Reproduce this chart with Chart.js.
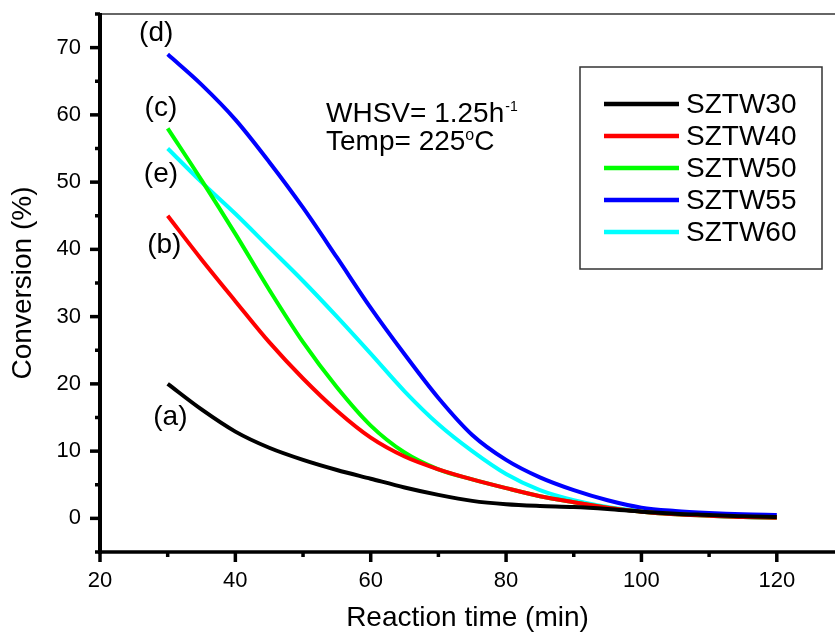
<!DOCTYPE html>
<html>
<head>
<meta charset="utf-8">
<script src="https://cdn.jsdelivr.net/npm/chart.js@4"></script>
<style>
  body { margin: 0; background: white; }
  #wrap { width: 835px; height: 635px; }
</style>
</head>
<body>
<div id="wrap"><canvas id="conv" width="835" height="635"></canvas></div>
<script>
// reaction time (min)
const times = [30, 35, 40, 45, 50, 55, 60, 65, 70, 75, 80, 85, 90, 95, 100, 105, 110, 115, 120]
// conversion (%)
const sztw30 = [20, 16.2, 12.9, 10.5, 8.7, 7.2, 5.9, 4.6, 3.5, 2.6, 2.1, 1.85, 1.7, 1.4, 1.0, 0.7, 0.5, 0.3, 0.2]
const sztw40 = [45, 38.5, 32.3, 26.2, 20.8, 16, 12, 9.2, 7.3, 5.8, 4.5, 3.3, 2.4, 1.6, 1.0, 0.6, 0.4, 0.2, 0.1]
const sztw50 = [58, 50.3, 42.3, 34, 26.2, 19.5, 13.8, 9.8, 7.3, 5.8, 4.5, 3.3, 2.4, 1.6, 1.0, 0.6, 0.4, 0.2, 0.1]
const sztw55 = [69, 64.5, 59.3, 53, 46.2, 38.8, 31.3, 24.4, 17.9, 12.4, 8.7, 6.1, 4.2, 2.7, 1.6, 1.1, 0.8, 0.6, 0.5]
const sztw60 = [55, 50, 45.3, 40.3, 35.3, 30, 24.5, 18.9, 14, 10, 6.6, 4.2, 2.7, 1.7, 1.1, 0.7, 0.4, 0.2, 0.1]

const seriesNames = ["SZTW30", "SZTW40", "SZTW50", "SZTW55", "SZTW60"]
const seriesData = [sztw30, sztw40, sztw50, sztw55, sztw60]
const seriesColors = ["#000000", "#ff0000", "#00ff00", "#0000ff", "#00ffff"]

// curve tags (a)..(e) and where they sit, in axis units
const tagText = ["(a)", "(b)", "(c)", "(d)", "(e)"]
const tagX = [30.4, 29.5, 29.0, 28.3, 29.0]
const tagY = [15.0, 40.6, 61.0, 72.1, 51.1]

const FONT = "'Liberation Sans', Arial, sans-serif"

let datasets = []
for (let i = 0; i < seriesNames.length; i++) {
  datasets.push({
    label: seriesNames[i],
    data: times.map((t, k) => ({ x: t, y: seriesData[i][k] })),
    borderColor: seriesColors[i],
    backgroundColor: seriesColors[i],
    borderWidth: 4,
    pointRadius: 0,
    tension: 0.4,
    cubicInterpolationMode: "monotone",
    fill: false
  })
}

// axes, ticks, legend box and text drawn on top
const extras = {
  id: "extras",
  afterDraw(chart) {
    const ctx = chart.ctx
    const a = chart.chartArea
    const xs = chart.scales.x
    const ys = chart.scales.y
    ctx.save()

    // top frame line
    ctx.strokeStyle = "#333"
    ctx.lineWidth = 1.5
    ctx.beginPath()
    ctx.moveTo(a.left, a.top)
    ctx.lineTo(a.right, a.top)
    ctx.stroke()

    ctx.strokeStyle = "#000"
    ctx.lineWidth = 4
    ctx.beginPath()
    ctx.moveTo(a.left, a.top - 1)
    ctx.lineTo(a.left, a.bottom + 2)
    ctx.stroke()
    ctx.lineWidth = 3.5
    ctx.beginPath()
    ctx.moveTo(a.left - 2, a.bottom)
    ctx.lineTo(a.right, a.bottom)
    ctx.stroke()

    // ticks, pointing out
    ctx.lineWidth = 3.5
    ys.ticks.forEach(t => {
      let py = ys.getPixelForValue(t.value)
      let len = t.value % 10 == 0 ? 10 : 5
      ctx.beginPath()
      ctx.moveTo(a.left, py)
      ctx.lineTo(a.left - len, py)
      ctx.stroke()
    })
    xs.ticks.forEach(t => {
      let px = xs.getPixelForValue(t.value)
      let len = t.value % 20 == 0 ? 10 : 5
      ctx.beginPath()
      ctx.moveTo(px, a.bottom)
      ctx.lineTo(px, a.bottom + len)
      ctx.stroke()
    })

    // curve tags
    ctx.fillStyle = "#000"
    ctx.font = "28px " + FONT
    ctx.textAlign = "center"
    ctx.textBaseline = "middle"
    for (let i = 0; i < tagText.length; i++) {
      ctx.fillText(tagText[i], xs.getPixelForValue(tagX[i]), ys.getPixelForValue(tagY[i]))
    }

    // conditions text
    ctx.textAlign = "left"
    ctx.textBaseline = "alphabetic"
    let tx = xs.getPixelForValue(53.4)
    let b1 = ys.getPixelForValue(59.0)
    let b2 = ys.getPixelForValue(54.8)
    ctx.font = "28px " + FONT
    ctx.fillText("WHSV= 1.25h", tx, b1)
    let w1 = ctx.measureText("WHSV= 1.25h").width
    ctx.font = "14px " + FONT
    ctx.fillText("-1", tx + w1 + 1, b1 - 11)
    ctx.font = "28px " + FONT
    ctx.fillText("Temp= 225", tx, b2)
    let w2 = ctx.measureText("Temp= 225").width
    ctx.font = "16px " + FONT
    ctx.fillText("o", tx + w2, b2 - 10)
    let w3 = ctx.measureText("o").width
    ctx.font = "28px " + FONT
    ctx.fillText("C", tx + w2 + w3, b2)

    // legend box
    ctx.strokeStyle = "#333"
    ctx.lineWidth = 1.5
    ctx.strokeRect(580, 67, 242, 202)
    chart.data.datasets.forEach((ds, i) => {
      let ly = 104 + i * 32
      ctx.strokeStyle = ds.borderColor
      ctx.lineWidth = 4.5
      ctx.beginPath()
      ctx.moveTo(604, ly)
      ctx.lineTo(679, ly)
      ctx.stroke()
      ctx.fillStyle = "#000"
      ctx.font = "28px " + FONT
      ctx.textBaseline = "middle"
      ctx.fillText(ds.label, 686, ly + 1)
    })
    ctx.restore()
  }
}

const tickFont = { family: FONT, size: 22 }
const titleFont = { family: FONT, size: 28 }

new Chart(document.getElementById("conv").getContext("2d"), {
  type: "line",
  data: { datasets: datasets },
  options: {
    responsive: false,
    animation: false,
    layout: { padding: { top: 14, right: 0, left: 0, bottom: 0 } },
    plugins: {
      legend: { display: false },
      tooltip: { enabled: false }
    },
    scales: {
      x: {
        type: "linear",
        min: 20,
        max: 128.6,
        afterFit: s => { s.height = 83; s.paddingLeft = 0; s.paddingRight = 0 },
        border: { display: false },
        grid: { display: true, drawOnChartArea: false, drawTicks: true, tickLength: 10, tickColor: "rgba(0,0,0,0)" },
        ticks: {
          stepSize: 10,
          includeBounds: false,
          maxRotation: 0,
          autoSkip: false,
          padding: 6,
          color: "#000",
          font: tickFont,
          callback: v => (v % 20 == 0 ? v : "")
        },
        title: { display: true, text: "Reaction time (min)", color: "#000", font: titleFont, padding: { top: 0, bottom: 0 } }
      },
      y: {
        min: -5,
        max: 75,
        afterFit: s => { s.width = 100; s.paddingTop = 0; s.paddingBottom = 0 },
        border: { display: false },
        grid: { display: true, drawOnChartArea: false, drawTicks: true, tickLength: 10, tickColor: "rgba(0,0,0,0)" },
        ticks: {
          stepSize: 5,
          includeBounds: false,
          autoSkip: false,
          padding: 9,
          color: "#000",
          font: tickFont,
          callback: v => (v % 10 == 0 && v >= 0 && v <= 70 ? v : "")
        },
        title: { display: true, text: "Conversion (%)", color: "#000", font: titleFont, padding: { top: 6, bottom: 0 } }
      }
    }
  },
  plugins: [extras]
})
</script>
</body>
</html>
